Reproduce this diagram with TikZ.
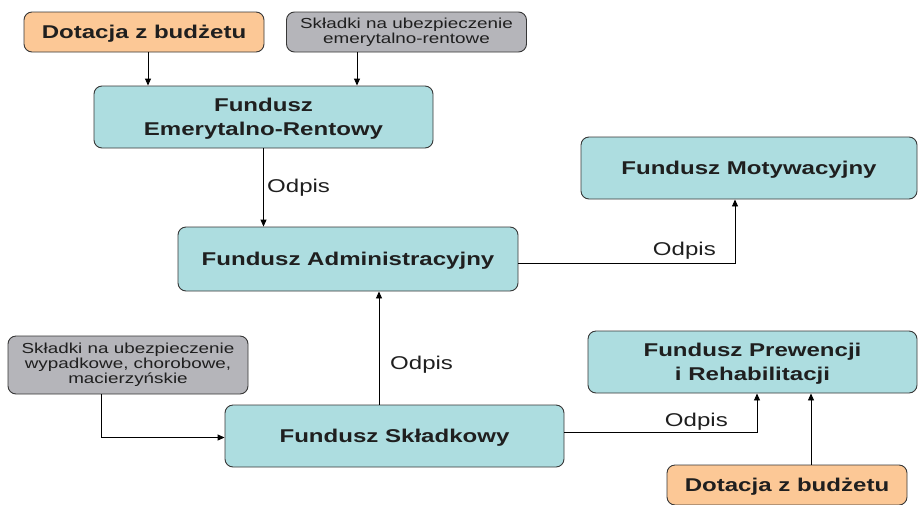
\documentclass[tikz,border=0pt]{standalone}
\usepackage{fontspec}
\setmainfont{Liberation Sans}[FakeStretch=1.3]
\usetikzlibrary{arrows.meta}
\definecolor{fteal}{RGB}{173,221,224}
\definecolor{forange}{RGB}{252,200,150}
\definecolor{fgray}{RGB}{181,181,186}
\definecolor{fborder}{RGB}{55,55,55}
\tikzset{
  box/.style={draw=fborder, line width=0.9pt, rounded corners=8pt, align=center, inner sep=0pt, text=black!88},
  fund/.style={box, fill=fteal, text depth=0pt, font=\fontsize{18.5}{23.5}\selectfont\bfseries},
  budget/.style={box, fill=forange, text depth=0pt, font=\fontsize{18.5}{22}\selectfont\bfseries, minimum width=240pt, minimum height=40pt},
  contrib/.style={box, fill=fgray, font=\fontsize{14.5}{15}\selectfont, minimum width=240pt},
  conn/.style={line width=0.9pt, -{Triangle[length=7pt,width=6pt]}},
  lbl/.style={font=\fontsize{18.5}{22}\selectfont, inner sep=0pt, text=black!88}
}
\begin{document}
\begin{tikzpicture}[x=1pt,y=-1pt]
\useasboundingbox (0,0) rectangle (918,504);
\node[budget] (dt) at (144,32) {Dotacja z budżetu};
\node[contrib, minimum height=40pt] (st) at (406.5,32) {Składki na ubezpieczenie\\emerytalno-rentowe};
\node[fund, minimum width=339pt, minimum height=62pt] (fer) at (263.5,117) {Fundusz\\Emerytalno-Rentowy};
\node[fund, minimum width=340pt, minimum height=64pt] (fa) at (348,259) {Fundusz Administracyjny};
\node[fund, minimum width=336pt, minimum height=62pt] (fm) at (749,168) {Fundusz Motywacyjny};
\node[contrib, minimum height=58pt] (sb) at (128,365) {Składki na ubezpieczenie\\wypadkowe, chorobowe,\\macierzyńskie};
\node[fund, minimum width=339pt, minimum height=62pt] (fs) at (394.5,436) {Fundusz Składkowy};
\node[fund, minimum width=329pt, minimum height=62pt] (fpr) at (752.5,362) {Fundusz Prewencji\\i Rehabilitacji};
\node[budget] (db) at (787,485) {Dotacja z budżetu};

\draw[conn] ([xshift=4pt]dt.south) -- ([xshift=4pt]dt.south |- fer.north);
\draw[conn] ([xshift=-49.5pt]st.south) -- ([xshift=-49.5pt]st.south |- fer.north);
\draw[conn] (fer.south) -- (fer.south |- fa.north);
\draw[conn] ([yshift=-4pt]fa.east) -| ([xshift=-14pt]fm.south);
\draw[conn] ([xshift=-15.5pt]fs.north) -- ([xshift=-15.5pt]fs.north |- fa.south);
\draw[conn] ([xshift=-27pt]sb.south) |- ([yshift=-1.5pt]fs.west);
\draw[conn] ([yshift=4pt]fs.east) -| ([xshift=4.5pt]fpr.south);
\draw[conn] ([xshift=24pt]db.north) -- ([xshift=24pt]db.north |- fpr.south);

\node[lbl, anchor=west] (l1) at (267,188) {Odpis};
\node[lbl, anchor=east] (l2) at (716,251) {Odpis};
\node[lbl, anchor=west] (l3) at (390,365) {Odpis};
\node[lbl, anchor=east] (l4) at (728,422) {Odpis};
\end{tikzpicture}
\end{document}
